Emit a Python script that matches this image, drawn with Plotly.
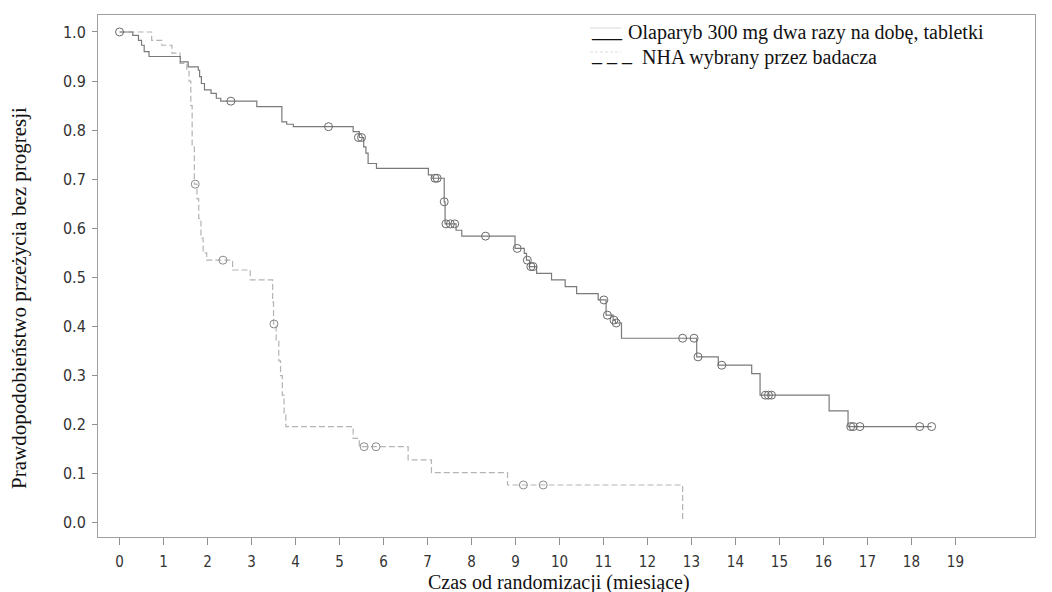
import plotly.graph_objects as go

# ---- data ----
ola_t = [0, 0.30, 0.43, 0.50, 0.56, 0.67, 1.38, 1.56, 1.79, 1.82, 1.86, 1.93, 2.08, 2.20, 2.30,
         3.12, 3.69, 3.80, 3.95, 5.31, 5.45, 5.55, 5.60, 5.65, 5.84, 7.02, 7.10, 7.38, 7.40,
         7.65, 7.78, 8.99, 9.20, 9.25, 9.32, 9.48, 9.82, 10.13, 10.39, 10.88, 11.06, 11.22,
         11.27, 11.41, 13.12, 13.61, 14.37, 14.56, 16.13, 16.56]
ola_s = [1.0, 0.993, 0.983, 0.973, 0.960, 0.950, 0.939, 0.929, 0.922, 0.909, 0.895, 0.882, 0.875,
         0.865, 0.859, 0.848, 0.817, 0.812, 0.807, 0.797, 0.785, 0.766, 0.753, 0.732, 0.722,
         0.709, 0.702, 0.654, 0.609, 0.596, 0.584, 0.559, 0.549, 0.535, 0.522, 0.508, 0.495,
         0.481, 0.467, 0.454, 0.423, 0.413, 0.407, 0.376, 0.338, 0.321, 0.304, 0.260, 0.228, 0.196]
ola_cens_t = [0, 2.53, 4.75, 5.43, 5.50, 7.17, 7.22, 7.38, 7.42, 7.52, 7.62, 8.32, 9.04, 9.27,
              9.35, 9.40, 11.01, 11.09, 11.24, 11.29, 12.80, 13.06, 13.15, 13.69, 14.68, 14.75,
              14.82, 16.62, 16.68, 16.83, 18.19, 18.46]
ola_cens_s = [1.0, 0.859, 0.807, 0.785, 0.785, 0.702, 0.702, 0.654, 0.609, 0.609, 0.609, 0.584,
              0.559, 0.535, 0.522, 0.522, 0.454, 0.423, 0.413, 0.407, 0.376, 0.376, 0.338, 0.321,
              0.260, 0.260, 0.260, 0.196, 0.196, 0.196, 0.196, 0.196]

nha_t = [0, 0.73, 0.96, 1.19, 1.375, 1.53, 1.58, 1.62, 1.65, 1.70, 1.76, 1.80, 1.85, 1.90, 1.98,
         2.57, 2.97, 3.48, 3.50, 3.56, 3.62, 3.66, 3.70, 3.74, 3.78, 5.31, 5.45, 6.56, 7.09,
         8.82, 12.80]
nha_s = [1.0, 0.983, 0.973, 0.957, 0.936, 0.920, 0.900, 0.850, 0.770, 0.690, 0.660, 0.620, 0.580,
         0.550, 0.535, 0.515, 0.495, 0.450, 0.405, 0.370, 0.330, 0.300, 0.260, 0.220, 0.196,
         0.172, 0.155, 0.128, 0.102, 0.077, 0.005]
nha_cens_t = [1.72, 2.35, 3.51, 5.56, 5.83, 9.18, 9.63]
nha_cens_s = [0.690, 0.535, 0.405, 0.155, 0.155, 0.077, 0.077]

x_ticks = list(range(0, 20))
y_ticks = [0.0, 0.1, 0.2, 0.3, 0.4, 0.5, 0.6, 0.7, 0.8, 0.9, 1.0]

ola_name = "Olaparyb 300 mg dwa razy na dobę, tabletki"
nha_name = "NHA wybrany przez badacza"
x_title = "Czas od randomizacji (miesiące)"
y_title = "Prawdopodobieństwo przeżycia bez progresji"

OLA_COL = "#7a7a7a"
NHA_COL = "#b4b4b4"
SERIF = "Liberation Serif, Times New Roman, serif"
SANS = "DejaVu Sans Condensed, DejaVu Sans, Verdana, sans-serif"

# extend the solid curve to the last censored observation
ola_line_t = ola_t + [max(ola_cens_t)]
ola_line_s = ola_s + [ola_s[-1]]

fig = go.Figure()
fig.add_trace(go.Scatter(x=nha_t, y=nha_s, mode="lines", line_shape="hv",
                         line=dict(color=NHA_COL, width=1.2, dash="6px,3px"),
                         name=nha_name, showlegend=False, hoverinfo="skip"))
fig.add_trace(go.Scatter(x=ola_line_t, y=ola_line_s, mode="lines", line_shape="hv",
                         line=dict(color=OLA_COL, width=1.2),
                         name=ola_name, showlegend=False, hoverinfo="skip"))
fig.add_trace(go.Scatter(x=nha_cens_t, y=nha_cens_s, mode="markers",
                         marker=dict(symbol="circle-open", size=8, color="#8c8c8c",
                                     line=dict(width=1)),
                         showlegend=False, hoverinfo="skip"))
fig.add_trace(go.Scatter(x=ola_cens_t, y=ola_cens_s, mode="markers",
                         marker=dict(symbol="circle-open", size=8, color="#6a6a6a",
                                     line=dict(width=1)),
                         showlegend=False, hoverinfo="skip"))

# the page body adds an 8px offset; targets below are in screen pixels
OFF = 8
BOX_L, BOX_R, BOX_T, BOX_B = 98, 1035, 15, 537
W, H = 1052, 592
L = BOX_L - OFF
T = BOX_T - OFF
pw, ph = BOX_R - BOX_L, BOX_B - BOX_T
R = W - L - pw
B = H - T - ph


def px_x(px):
    return (px - BOX_L) / pw


def px_y(py):
    return 1 - (py - BOX_T) / ph


annotations = [
    dict(text=x_title, xref="paper", yref="paper", x=px_x(559), y=px_y(582),
         xanchor="center", yanchor="middle", showarrow=False,
         font=dict(family=SERIF, size=20, color="#111")),
    dict(text=y_title, xref="paper", yref="paper", x=px_x(19), y=px_y(298),
         xanchor="center", yanchor="middle", showarrow=False, textangle=-90,
         font=dict(family=SERIF, size=21, color="#111")),
    dict(text="___", xref="paper", yref="paper", x=px_x(589), y=px_y(30),
         xanchor="left", yanchor="middle", showarrow=False,
         font=dict(family=SERIF, size=20, color="#111")),
    dict(text=ola_name, xref="paper", yref="paper", x=px_x(626), y=px_y(33),
         xanchor="left", yanchor="middle", showarrow=False,
         font=dict(family=SERIF, size=20, color="#111")),
    dict(text="_ _ _", xref="paper", yref="paper", x=px_x(589), y=px_y(54),
         xanchor="left", yanchor="middle", showarrow=False,
         font=dict(family=SERIF, size=20, color="#111")),
    dict(text=nha_name, xref="paper", yref="paper", x=px_x(640), y=px_y(57),
         xanchor="left", yanchor="middle", showarrow=False,
         font=dict(family=SERIF, size=20, color="#111")),
]

shapes = [
    dict(type="line", xref="paper", yref="paper", x0=px_x(590), x1=px_x(621),
         y0=px_y(28), y1=px_y(28), line=dict(color="#d8d8d8", width=1)),
    dict(type="line", xref="paper", yref="paper", x0=px_x(590), x1=px_x(621),
         y0=px_y(52), y1=px_y(52), line=dict(color="#dcdcdc", width=1, dash="3px,2px")),
]

fig.update_layout(
    width=W, height=H,
    margin=dict(l=L, r=R, t=T, b=B, autoexpand=False),
    paper_bgcolor="white", plot_bgcolor="white",
    showlegend=False,
    annotations=annotations,
    shapes=shapes,
    xaxis=dict(range=[-0.49, 20.81], tickvals=x_ticks, ticktext=[str(v) for v in x_ticks],
               showgrid=False, zeroline=False, showline=True, mirror=True,
               linecolor="#a0a0a0", linewidth=1, ticks="outside", ticklen=7,
               tickcolor="#909090", ticklabelstandoff=4,
               tickfont=dict(family=SANS, size=15, color="#333")),
    yaxis=dict(range=[-0.029, 1.0346], tickvals=y_ticks,
               ticktext=[f"{v:.1f}" for v in y_ticks],
               showgrid=False, zeroline=False, showline=True, mirror=True,
               linecolor="#a0a0a0", linewidth=1, ticks="outside", ticklen=5,
               tickcolor="#909090", ticklabelstandoff=3,
               tickfont=dict(family=SANS, size=16, color="#333")),
)

fig.write_html("out.html")
